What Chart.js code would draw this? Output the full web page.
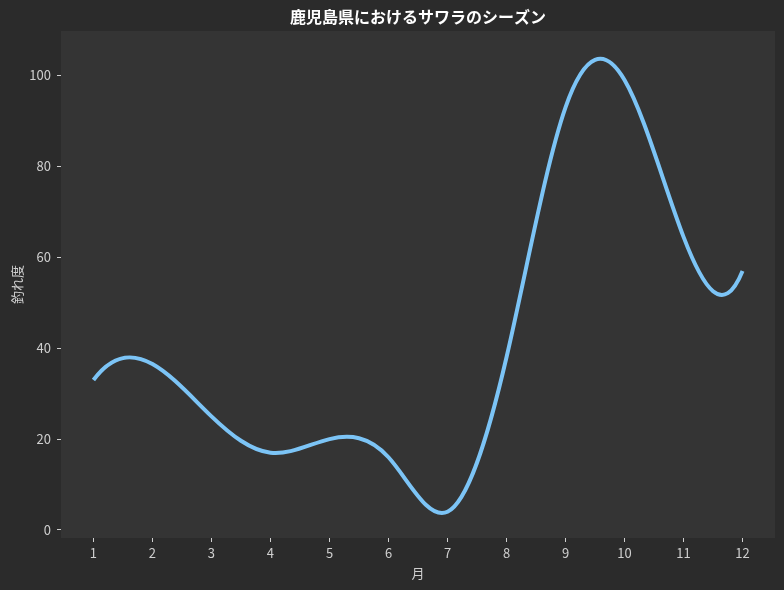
<!DOCTYPE html>
<html>
<head>
<meta charset="utf-8">
<script src="https://cdn.jsdelivr.net/npm/chart.js@4.4.1/dist/chart.umd.min.js"></script>
<style>
  html, body { margin: 0; padding: 0; background: #2b2b2b; }
  #wrap { position: relative; width: 784px; height: 590px; }
</style>
</head>
<body>
<div id="wrap"><canvas id="c"></canvas></div>
<script>
// ---- data ----
const chartTitle = "鹿児島県におけるサワラのシーズン";
const xLabel = "月";
const yLabel = "釣れ度";
const months = [1, 2, 3, 4, 5, 6, 7, 8, 9, 10, 11, 12];
const catchIndex = [33, 36.5, 25, 17, 20, 16, 4, 38, 93, 99, 64.5, 57];
const xTicks = [1, 2, 3, 4, 5, 6, 7, 8, 9, 10, 11, 12];
const yTicks = [0, 20, 40, 60, 80, 100];

const OUTER_BG = "#2b2b2b";
const PLOT_BG = "#343434";
const TEXT = "#cfcfcf";
const FONT = "'Noto Sans CJK JP', 'Noto Sans', sans-serif";

// background + title
const bgPlugin = {
  id: "bg",
  beforeDraw(chart) {
    const { ctx, chartArea: a } = chart;
    ctx.save();
    ctx.fillStyle = OUTER_BG;
    ctx.fillRect(0, 0, chart.width, chart.height);
    ctx.fillStyle = PLOT_BG;
    ctx.fillRect(a.left, a.top, a.right - a.left, a.bottom - a.top);
    ctx.restore();
  },
  afterDraw(chart) {
    const { ctx, chartArea: a } = chart;
    ctx.save();
    ctx.fillStyle = "#ffffff";
    ctx.font = "bold 16px " + FONT;
    ctx.textAlign = "center";
    ctx.textBaseline = "middle";
    ctx.fillText(chartTitle, (a.left + a.right) / 2, 17);
    ctx.restore();
  }
};

// cubic spline (not-a-knot) control points for the library's bezier line
const splinePlugin = {
  id: "spline",
  beforeDatasetDraw(chart, args) {
    const meta = args.meta;
    const pts = meta.data;
    const n = pts.length;
    if (n < 4) return;
    const xs = pts.map(p => p.x), ys = pts.map(p => p.y);
    const h = (xs[n - 1] - xs[0]) / (n - 1);
    const A = [], b = [];
    for (let i = 0; i < n; i++) { A.push(new Array(n).fill(0)); b.push(0); }
    A[0][0] = 1; A[0][1] = -2; A[0][2] = 1;
    for (let i = 1; i < n - 1; i++) {
      A[i][i - 1] = 1; A[i][i] = 4; A[i][i + 1] = 1;
      b[i] = 6 * (ys[i - 1] - 2 * ys[i] + ys[i + 1]) / (h * h);
    }
    A[n - 1][n - 3] = 1; A[n - 1][n - 2] = -2; A[n - 1][n - 1] = 1;
    for (let c = 0; c < n; c++) {
      let piv = c;
      for (let r = c + 1; r < n; r++) if (Math.abs(A[r][c]) > Math.abs(A[piv][c])) piv = r;
      [A[c], A[piv]] = [A[piv], A[c]]; [b[c], b[piv]] = [b[piv], b[c]];
      for (let r = c + 1; r < n; r++) {
        const f = A[r][c] / A[c][c];
        if (!f) continue;
        for (let k = c; k < n; k++) A[r][k] -= f * A[c][k];
        b[r] -= f * b[c];
      }
    }
    const M = new Array(n).fill(0);
    for (let r = n - 1; r >= 0; r--) {
      let s = b[r];
      for (let k = r + 1; k < n; k++) s -= A[r][k] * M[k];
      M[r] = s / A[r][r];
    }
    const m = new Array(n);
    for (let i = 0; i < n - 1; i++) {
      m[i] = (ys[i + 1] - ys[i]) / h - h * (2 * M[i] + M[i + 1]) / 6;
    }
    m[n - 1] = (ys[n - 1] - ys[n - 2]) / h + h * (M[n - 2] + 2 * M[n - 1]) / 6;
    for (let i = 0; i < n; i++) {
      const p = pts[i];
      p.cp1x = xs[i] - h / 3; p.cp1y = ys[i] - m[i] * h / 3;
      p.cp2x = xs[i] + h / 3; p.cp2y = ys[i] + m[i] * h / 3;
    }
    meta.dataset._pointsUpdated = true;
  }
};

const tickOpts = { color: TEXT, font: { family: FONT, size: 13 } };

new Chart(document.getElementById("c"), {
  type: "line",
  data: {
    datasets: [{
      data: months.map((mo, i) => ({ x: mo, y: catchIndex[i] })),
      borderColor: "#7cc4f6",
      borderWidth: 4,
      borderCapStyle: "butt",
      borderJoinStyle: "round",
      pointRadius: 0,
      tension: 0.4,
      fill: false
    }]
  },
  options: {
    responsive: true,
    maintainAspectRatio: false,
    animation: false,
    events: [],
    layout: { padding: { left: 0, top: 31, right: 9, bottom: 0 } },
    plugins: { legend: { display: false }, title: { display: false }, tooltip: { enabled: false } },
    scales: {
      x: {
        type: "linear",
        min: 0.45, max: 12.55,
        afterBuildTicks: s => { s.ticks = xTicks.map(v => ({ value: v })); },
        afterFit: s => { s.height = 52; },
        grid: { drawOnChartArea: false, drawTicks: true, tickLength: 4, tickColor: TEXT, color: TEXT },
        border: { display: false },
        ticks: Object.assign({ padding: 3, maxRotation: 0, autoSkip: false }, tickOpts),
        title: { display: true, text: xLabel, color: TEXT, font: { family: FONT, size: 13 }, padding: { top: 0, bottom: 9 } }
      },
      y: {
        type: "linear",
        min: -1.77, max: 109.8,
        afterBuildTicks: s => { s.ticks = yTicks.map(v => ({ value: v })); },
        afterFit: s => { s.width = 61; },
        grid: { drawOnChartArea: false, drawTicks: true, tickLength: 4, tickColor: TEXT, color: TEXT },
        border: { display: false },
        ticks: Object.assign({ padding: 6, autoSkip: false }, tickOpts),
        title: { display: true, text: yLabel, color: TEXT, font: { family: FONT, size: 13 }, padding: { top: 9, bottom: 0 } }
      }
    }
  },
  plugins: [bgPlugin, splinePlugin]
});
</script>
</body>
</html>
